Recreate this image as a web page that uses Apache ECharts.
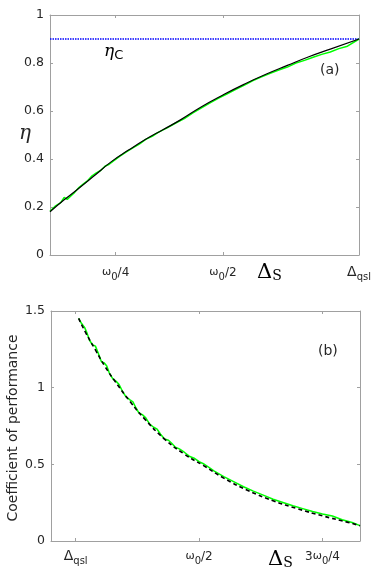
<!DOCTYPE html>
<html>
<head>
<meta charset="utf-8">
<script src="https://cdn.jsdelivr.net/npm/echarts@6/dist/echarts.min.js"></script>
<style>
  html, body { margin: 0; padding: 0; background: #fff; }
  #chart { width: 374px; height: 580px; }
</style>
</head>
<body>
<div id="chart"></div>
<script>
  // panel (a): efficiency vs Delta_S (x in units of omega_0)
  const xaBlack = [0.097, 0.13, 0.16, 0.2, 0.24, 0.28, 0.32, 0.36, 0.4, 0.45, 0.5, 0.55, 0.6, 0.65, 0.7, 0.75, 0.817];
  const yaBlack = [0.18, 0.23, 0.272, 0.33, 0.389, 0.437, 0.482, 0.522, 0.562, 0.618, 0.667, 0.712, 0.753, 0.79, 0.826, 0.858, 0.9];
  const xaGreen = [0.097, 0.11, 0.122, 0.13, 0.137, 0.145, 0.155, 0.165, 0.175, 0.185, 0.195, 0.205, 0.215, 0.225, 0.235, 0.245, 0.26, 0.275, 0.29, 0.305,
                   0.32, 0.335, 0.35, 0.37, 0.39, 0.41, 0.43, 0.45, 0.47, 0.49, 0.51, 0.53, 0.55, 0.57, 0.59, 0.61, 0.63, 0.65, 0.67, 0.69,
                   0.71, 0.73, 0.75, 0.77, 0.79, 0.817];
  const yaGreen = [0.182, 0.205, 0.218, 0.24, 0.232, 0.245, 0.262, 0.282, 0.296, 0.31, 0.33, 0.342, 0.352, 0.37, 0.378, 0.392, 0.412, 0.43, 0.446, 0.462,
                   0.482, 0.494, 0.512, 0.53, 0.55, 0.568, 0.592, 0.613, 0.634, 0.654, 0.672, 0.69, 0.708, 0.727, 0.742, 0.757, 0.771, 0.783, 0.8, 0.811,
                   0.824, 0.836, 0.846, 0.86, 0.87, 0.9];
  const etaC = 0.9;
  const xaTicks = [0.25, 0.5, 0.817];
  const xaTickLabels = ['{w|ω}{s|0}{t|/4}', '{w|ω}{s|0}{t|/2}', '{d|Δ}{s|qsl}'];

  // panel (b): coefficient of performance vs Delta_S
  const xbBlack = [0.256, 0.27, 0.29, 0.31, 0.33, 0.36, 0.39, 0.43, 0.47, 0.51, 0.55, 0.6, 0.65, 0.7, 0.75, 0.8, 0.826];
  const ybBlack = [1.452, 1.36, 1.246, 1.135, 1.04, 0.91, 0.795, 0.665, 0.567, 0.49, 0.41, 0.328, 0.262, 0.21, 0.164, 0.123, 0.1];
  const xbGreen = [0.256, 0.262, 0.268, 0.272, 0.278, 0.284, 0.29, 0.296, 0.302, 0.308, 0.313, 0.318, 0.325, 0.332, 0.338, 0.345, 0.352, 0.36,
                   0.366, 0.372, 0.378, 0.385, 0.392, 0.4, 0.408, 0.415, 0.422, 0.43, 0.438, 0.445, 0.452, 0.46, 0.47, 0.48, 0.49, 0.5,
                   0.51, 0.52, 0.53, 0.55, 0.57, 0.59, 0.61, 0.63, 0.65, 0.67, 0.69, 0.71, 0.73, 0.75, 0.77, 0.79, 0.81, 0.826];
  const ybGreen = [1.452, 1.418, 1.393, 1.364, 1.309, 1.28, 1.271, 1.223, 1.17, 1.161, 1.141, 1.097, 1.059, 1.041, 1.02, 0.975, 0.94, 0.92,
                   0.907, 0.869, 0.836, 0.824, 0.803, 0.762, 0.742, 0.729, 0.696, 0.665, 0.657, 0.636, 0.611, 0.601, 0.579, 0.553, 0.54, 0.517,
                   0.502, 0.48, 0.458, 0.42, 0.387, 0.354, 0.325, 0.299, 0.272, 0.251, 0.23, 0.211, 0.192, 0.176, 0.163, 0.139, 0.121, 0.1];
  const xbTicks = [0.25, 0.5, 0.75];
  const xbTickLabels = ['{d|Δ}{s|qsl}', '{w|ω}{s|0}{t|/2}', '{t|3}{w|ω}{s|0}{t|/4}'];

  const zip = (xs, ys) => xs.map((x, i) => [x, ys[i]]);

  const axisColor = '#a0a0a0';
  const textColor = '#262626';
  const font = 'DejaVu Sans';
  const rich = {
    w: { fontSize: 11, fontFamily: font, color: textColor },
    d: { fontSize: 14, fontFamily: font, color: textColor },
    t: { fontSize: 12, fontFamily: font, color: textColor },
    s: { fontSize: 10, fontFamily: font, color: textColor, padding: [9, 0, 0, 0] }
  };

  function xAxisPair(grid, min, max, ticks, labels, margin) {
    return [
      {
        type: 'value', gridIndex: grid, min: min, max: max, position: 'bottom',
        axisLine: { show: true, lineStyle: { color: axisColor, width: 1 } },
        axisTick: { show: true, inside: true, length: 3, customValues: ticks, lineStyle: { color: axisColor } },
        axisLabel: {
          show: true, customValues: ticks, margin: margin, showMinLabel: true, showMaxLabel: true,
          formatter: v => labels[ticks.findIndex(t => Math.abs(t - v) < 1e-6)] || '',
          rich: rich
        },
        splitLine: { show: false }
      },
      {
        type: 'value', gridIndex: grid, min: min, max: max, position: 'top',
        axisLine: { show: true, onZero: false, lineStyle: { color: axisColor, width: 1 } },
        axisTick: { show: true, inside: true, length: 3, customValues: ticks, lineStyle: { color: axisColor } },
        axisLabel: { show: false },
        splitLine: { show: false }
      }
    ];
  }

  function yAxisPair(grid, max, interval) {
    return [
      {
        type: 'value', gridIndex: grid, min: 0, max: max, interval: interval, position: 'left',
        axisLine: { show: true, lineStyle: { color: axisColor, width: 1 } },
        axisTick: { show: true, inside: true, length: 3, lineStyle: { color: axisColor } },
        axisLabel: { color: textColor, fontSize: 12.5, fontFamily: font, margin: 6 },
        splitLine: { show: false }
      },
      {
        type: 'value', gridIndex: grid, min: 0, max: max, interval: interval, position: 'right',
        axisLine: { show: true, onZero: false, lineStyle: { color: axisColor, width: 1 } },
        axisTick: { show: true, inside: true, length: 3, lineStyle: { color: axisColor } },
        axisLabel: { show: false },
        splitLine: { show: false }
      }
    ];
  }

  const chart = echarts.init(document.getElementById('chart'), null, { renderer: 'canvas' });

  chart.setOption({
    animation: false,
    backgroundColor: '#ffffff',
    grid: [
      { left: 50, top: 15, width: 311, height: 240 },
      { left: 51, top: 311, width: 309, height: 230 }
    ],
    xAxis: [
      ...xAxisPair(0, 0.097, 0.817, xaTicks, xaTickLabels, 8),
      ...xAxisPair(1, 0.2, 0.826, xbTicks, xbTickLabels, 6)
    ],
    yAxis: [
      ...yAxisPair(0, 1, 0.2),
      ...yAxisPair(1, 1.5, 0.5)
    ],
    series: [
      {
        type: 'line', xAxisIndex: 0, yAxisIndex: 0, showSymbol: false,
        data: [[xaBlack[0], etaC], [xaBlack[xaBlack.length - 1], etaC]],
        lineStyle: { color: '#0000ff', width: 1.5, type: [1.5, 1] }
      },
      {
        type: 'line', xAxisIndex: 0, yAxisIndex: 0, showSymbol: false,
        data: zip(xaGreen, yaGreen),
        lineStyle: { color: '#00ff00', width: 1.5 }
      },
      {
        type: 'line', xAxisIndex: 0, yAxisIndex: 0, showSymbol: false, smooth: true,
        data: zip(xaBlack, yaBlack),
        lineStyle: { color: '#000000', width: 1.2 }
      },
      {
        type: 'line', xAxisIndex: 2, yAxisIndex: 2, showSymbol: false,
        data: zip(xbGreen, ybGreen),
        lineStyle: { color: '#00ff00', width: 1.5 }
      },
      {
        type: 'line', xAxisIndex: 2, yAxisIndex: 2, showSymbol: false, smooth: true,
        data: zip(xbBlack, ybBlack),
        lineStyle: { color: '#000000', width: 1.6, type: [4, 3] }
      }
    ],
    graphic: [
      // y label panel (a)
      {
        type: 'text', left: 19, top: 124,
        style: { text: 'η', fontSize: 20, fontStyle: 'italic', fontFamily: 'DejaVu Serif', fill: textColor }
      },
      // eta_C annotation
      {
        type: 'text', left: 104, top: 43,
        style: {
          text: '{e|η}{c|C}',
          rich: {
            e: { fontSize: 17, fontStyle: 'italic', fontFamily: 'DejaVu Serif', color: textColor },
            c: { fontSize: 13, fontFamily: font, color: textColor, padding: [8, 0, 0, 0] }
          }
        }
      },
      { type: 'text', left: 320, top: 63, style: { text: '(a)', fontSize: 14, fontFamily: font, fill: textColor } },
      { type: 'text', left: 318, top: 344, style: { text: '(b)', fontSize: 14, fontFamily: font, fill: textColor } },
      // x axis names
      {
        type: 'text', left: 257, top: 262,
        style: {
          text: '{d|Δ}{s|S}',
          rich: {
            d: { fontSize: 21, fontFamily: 'DejaVu Serif', color: '#000' },
            s: { fontSize: 14, fontFamily: 'DejaVu Serif', color: '#000', padding: [8, 0, 0, 0] }
          }
        }
      },
      {
        type: 'text', left: 268, top: 549,
        style: {
          text: '{d|Δ}{s|S}',
          rich: {
            d: { fontSize: 21, fontFamily: 'DejaVu Serif', color: '#000' },
            s: { fontSize: 14, fontFamily: 'DejaVu Serif', color: '#000', padding: [8, 0, 0, 0] }
          }
        }
      },
      // y label panel (b)
      {
        type: 'text', x: 13, y: 428, rotation: Math.PI / 2,
        style: { text: 'Coefficient of performance', fontSize: 14, fontFamily: font, fill: textColor, align: 'center', verticalAlign: 'middle' }
      }
    ]
  });
</script>
</body>
</html>
